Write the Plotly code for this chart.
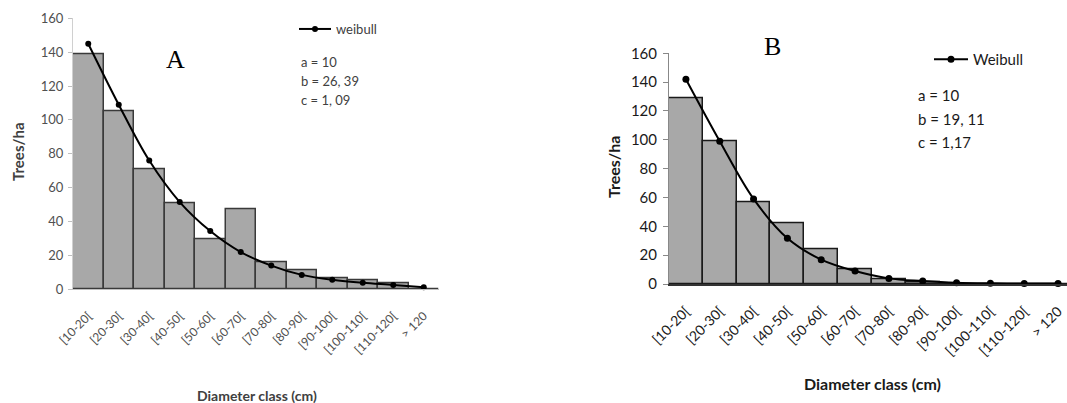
import plotly.graph_objects as go

W, H = 1067, 403

categories = ["[10-20[", "[20-30[", "[30-40[", "[40-50[", "[50-60[", "[60-70[",
              "[70-80[", "[80-90[", "[90-100[", "[100-110[", "[110-120[", "> 120"]

bars_A = [139, 105, 71, 51, 29.5, 47, 16, 11, 6.5, 5.5, 3.5, 0]
weibull_A = [145, 109, 76, 51.5, 34.4, 22, 14, 8.5, 5.6, 3.8, 2.6, 1.2]

bars_B = [129, 99, 57, 42, 24, 10.5, 3, 1, 0, 0, 0, 0]
weibull_B = [142, 99, 59, 31.7, 16.9, 9, 3.9, 2.1, 0.9, 0.5, 0.4, 0.3]

params_A = ["a = 10", "b = 26, 39", "c = 1, 09"]
params_B = ["a = 10", "b = 19, 11", "c = 1,17"]

y_ticks = [0, 20, 40, 60, 80, 100, 120, 140, 160]

def px(x):
    return x / W

def py(y):
    return (H - y) / H

fig = go.Figure()

# Panel A
fig.add_trace(go.Bar(x=categories, y=bars_A, width=1.0, xaxis="x", yaxis="y",
                     marker=dict(color="#A8A8A8", line=dict(color="#3a3a3a", width=1.5)),
                     showlegend=False))
fig.add_trace(go.Scatter(x=categories, y=weibull_A, xaxis="x", yaxis="y", name="weibull",
                         mode="lines+markers", line=dict(color="black", width=2, shape="spline"),
                         marker=dict(color="black", size=6), legend="legend", cliponaxis=False))

# Panel B
fig.add_trace(go.Bar(x=categories, y=bars_B, width=1.0, xaxis="x2", yaxis="y2",
                     marker=dict(color="#A8A8A8", line=dict(color="#1a1a1a", width=1.5)),
                     showlegend=False))
fig.add_trace(go.Scatter(x=categories, y=weibull_B, xaxis="x2", yaxis="y2", name="Weibull",
                         mode="lines+markers", line=dict(color="black", width=2, shape="spline"),
                         marker=dict(color="black", size=7), legend="legend2", cliponaxis=False))

fontA = "Lato, 'Open Sans', sans-serif"
fontB = "Lato, 'Noto Sans', sans-serif"

nB = (W - 669) / 33.83

fig.update_layout(
    width=W, height=H,
    margin=dict(l=0, r=0, t=0, b=0, autoexpand=False),
    paper_bgcolor="white", plot_bgcolor="white",
    bargap=0,
    xaxis=dict(domain=[px(73), px(439)], range=[-0.5, 11.5], anchor="y", automargin=False,
               tickangle=-45, tickfont=dict(family=fontA, size=12, color="#505050"),
               showline=True, linecolor="#BFBFBF", linewidth=1, ticks="",
               ticklabelstandoff=14, showgrid=False, zeroline=False),
    yaxis=dict(domain=[py(289.3), py(18.3)], range=[0, 160], anchor="x", automargin=False,
               tickvals=y_ticks, tickfont=dict(family=fontA, size=13, color="#505050"),
               showline=True, linecolor="#D0D0D0", linewidth=1, ticks="outside", ticklen=4,
               tickcolor="#BFBFBF", showgrid=False, zeroline=False, ticklabelstandoff=2),
    xaxis2=dict(domain=[px(669), 1.0], range=[-0.5, -0.5 + nB], anchor="y2", automargin=False,
                tickangle=-45, tickfont=dict(family=fontB, size=14, color="#1a1a1a"),
                showline=True, linecolor="#333333", linewidth=1.5, ticks="",
                ticklabelstandoff=12, showgrid=False, zeroline=False),
    yaxis2=dict(domain=[py(284), py(53.3)], range=[0, 160], anchor="x2", automargin=False,
                tickvals=y_ticks, tickfont=dict(family=fontB, size=15, color="#1a1a1a"),
                showline=True, linecolor="#888888", linewidth=1, ticks="outside", ticklen=5,
                tickcolor="#888888", showgrid=False, zeroline=False, ticklabelstandoff=3),
    legend=dict(x=px(294), y=py(14), xanchor="left", yanchor="top",
                font=dict(family=fontA, size=13, color="#404040"),
                bgcolor="rgba(0,0,0,0)", itemwidth=32),
    legend2=dict(x=px(929), y=py(43), xanchor="left", yanchor="top",
                 font=dict(family=fontB, size=15, color="#1a1a1a"),
                 bgcolor="rgba(0,0,0,0)", itemwidth=34),
)

annotations = []
serif = "'Liberation Serif', serif"
# titles A and B
annotations.append(dict(text="A", x=px(175), y=py(60), xref="paper", yref="paper",
                        xanchor="center", yanchor="middle", showarrow=False,
                        font=dict(family=serif, size=26, color="black")))
annotations.append(dict(text="B", x=px(772), y=py(47), xref="paper", yref="paper",
                        xanchor="center", yanchor="middle", showarrow=False,
                        font=dict(family=serif, size=26, color="black")))
# parameter text
for i, t in enumerate(params_A):
    annotations.append(dict(text=t, x=px(299), y=py(62 + i * 19), xref="paper", yref="paper",
                            xanchor="left", yanchor="middle", showarrow=False,
                            font=dict(family=fontA, size=13, color="#404040")))
for i, t in enumerate(params_B):
    annotations.append(dict(text=t, x=px(916), y=py(95 + i * 23.5), xref="paper", yref="paper",
                            xanchor="left", yanchor="middle", showarrow=False,
                            font=dict(family=fontB, size=15, color="#1a1a1a")))
# axis titles
annotations.append(dict(text="<b>Trees/ha</b>", x=px(18), y=py(152), xref="paper", yref="paper",
                        xanchor="center", yanchor="middle", showarrow=False, textangle=-90,
                        font=dict(family=fontA, size=15, color="#404040")))
annotations.append(dict(text="<b>Trees/ha</b>", x=px(613), y=py(167), xref="paper", yref="paper",
                        xanchor="center", yanchor="middle", showarrow=False, textangle=-90,
                        font=dict(family=fontB, size=16, color="#1a1a1a")))
annotations.append(dict(text="<b>Diameter class (cm)</b>", x=px(257), y=py(395), xref="paper", yref="paper",
                        xanchor="center", yanchor="middle", showarrow=False,
                        font=dict(family=fontA, size=14, color="#404040")))
annotations.append(dict(text="<b>Diameter class (cm)</b>", x=px(872), y=py(383), xref="paper", yref="paper",
                        xanchor="center", yanchor="middle", showarrow=False,
                        font=dict(family=fontB, size=16, color="#1a1a1a")))
fig.update_layout(annotations=annotations)

fig.write_html("out.html")
